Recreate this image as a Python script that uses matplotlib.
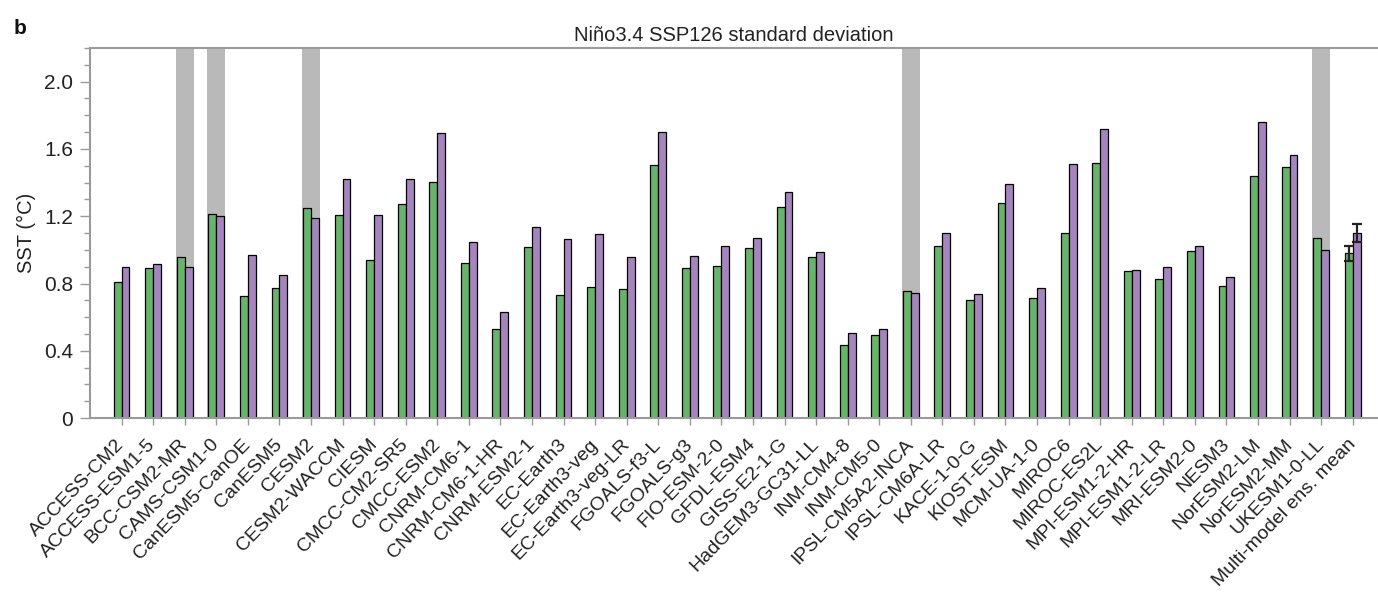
import matplotlib
matplotlib.use("Agg")
import matplotlib.pyplot as plt
import matplotlib.transforms as mtransforms
import numpy as np

plt.rcParams['font.family'] = ['Liberation Sans', 'DejaVu Sans']

models = ["ACCESS-CM2", "ACCESS-ESM1-5", "BCC-CSM2-MR", "CAMS-CSM1-0", "CanESM5-CanOE",
          "CanESM5", "CESM2", "CESM2-WACCM", "CIESM", "CMCC-CM2-SR5", "CMCC-ESM2",
          "CNRM-CM6-1", "CNRM-CM6-1-HR", "CNRM-ESM2-1", "EC-Earth3", "EC-Earth3-veg",
          "EC-Earth3-veg-LR", "FGOALS-f3-L", "FGOALS-g3", "FIO-ESM-2-0", "GFDL-ESM4",
          "GISS-E2-1-G", "HadGEM3-GC31-LL", "INM-CM4-8", "INM-CM5-0", "IPSL-CM5A2-INCA",
          "IPSL-CM6A-LR", "KACE-1-0-G", "KIOST-ESM", "MCM-UA-1-0", "MIROC6", "MIROC-ES2L",
          "MPI-ESM1-2-HR", "MPI-ESM1-2-LR", "MRI-ESM2-0", "NESM3", "NorESM2-LM",
          "NorESM2-MM", "UKESM1-0-LL", "Multi-model ens. mean"]

green_vals = [0.81, 0.89, 0.96, 1.215, 0.728, 0.774, 1.246, 1.208, 0.937, 1.272, 1.402,
              0.921, 0.530, 1.015, 0.734, 0.780, 0.766, 1.507, 0.891, 0.903, 1.009,
              1.254, 0.957, 0.437, 0.495, 0.758, 1.021, 0.702, 1.280, 0.712, 1.103,
              1.519, 0.873, 0.824, 0.991, 0.784, 1.440, 1.490, 1.071, 0.98]
purple_vals = [0.90, 0.917, 0.90, 1.20, 0.97, 0.853, 1.188, 1.424, 1.206, 1.424, 1.695,
               1.045, 0.630, 1.135, 1.063, 1.095, 0.957, 1.701, 0.963, 1.023, 1.071,
               1.344, 0.989, 0.504, 0.530, 0.742, 1.103, 0.738, 1.394, 0.776, 1.513,
               1.717, 0.883, 0.899, 1.021, 0.837, 1.761, 1.563, 1.001, 1.10]
green_err = [0.0] * 39 + [0.045]
purple_err = [0.0] * 39 + [0.055]
shaded_models = ["BCC-CSM2-MR", "CAMS-CSM1-0", "CESM2", "IPSL-CM5A2-INCA", "UKESM1-0-LL"]

green_c = "#67b46b"
purple_c = "#a684bd"
spine_c = "#9a9a9a"
text_c = "#222222"

fig = plt.figure(figsize=(13.78, 5.93), dpi=100)
ax = fig.add_axes([0.0653, 0.295, 0.9347, 0.624])

x = np.arange(len(models))
w = 0.25

for m in shaded_models:
    i = models.index(m)
    ax.axvspan(i - 0.28, i + 0.28, color="#b9b9b9", lw=0, zorder=0)

ax.bar(x - w / 2, green_vals, width=w, color=green_c, edgecolor="black", linewidth=0.9, zorder=2)
ax.bar(x + w / 2, purple_vals, width=w, color=purple_c, edgecolor="black", linewidth=0.9, zorder=2)

n = len(models) - 1
ax.errorbar(x[n] - w / 2, green_vals[n], yerr=green_err[n], fmt="none", ecolor="#222222",
            elinewidth=1.6, capsize=3.5, capthick=1.6, zorder=3)
ax.errorbar(x[n] + w / 2, purple_vals[n], yerr=purple_err[n], fmt="none", ecolor="#222222",
            elinewidth=1.6, capsize=3.5, capthick=1.6, zorder=3)

ax.set_xlim(-1.0, 39.8)
ax.set_ylim(0, 2.2)
ax.set_yticks([0, 0.4, 0.8, 1.2, 1.6, 2.0])
ax.set_yticklabels(["0", "0.4", "0.8", "1.2", "1.6", "2.0"])
ax.set_yticks(np.arange(0, 2.21, 0.1), minor=True)
ax.set_xticks(x)
ax.set_xticklabels(models, rotation=46, ha="right", va="center", rotation_mode="anchor",
                   fontsize=14, color=text_c)
offset = mtransforms.ScaledTranslation(0.21, 0, fig.dpi_scale_trans)
for lab in ax.get_xticklabels():
    lab.set_transform(lab.get_transform() + offset)
ax.tick_params(axis="x", length=5, width=1, color=spine_c, pad=12)
ax.tick_params(axis="y", which="major", length=7, width=1, color=spine_c, labelsize=15,
               labelcolor=text_c, pad=5)
ax.tick_params(axis="y", which="minor", length=4, width=1, color=spine_c)

for s in ["left", "top", "bottom"]:
    ax.spines[s].set_color(spine_c)
    ax.spines[s].set_linewidth(1.5)
ax.spines["right"].set_visible(False)

ax.set_ylabel("SST (°C)", fontsize=14.5, color=text_c, labelpad=6)
ax.set_title("Niño3.4 SSP126 standard deviation", fontsize=14.5, color=text_c, pad=5)
fig.text(0.0095, 0.943, "b", fontsize=15, fontweight="bold", color="#111111")

fig.savefig("out.png", dpi=100)
